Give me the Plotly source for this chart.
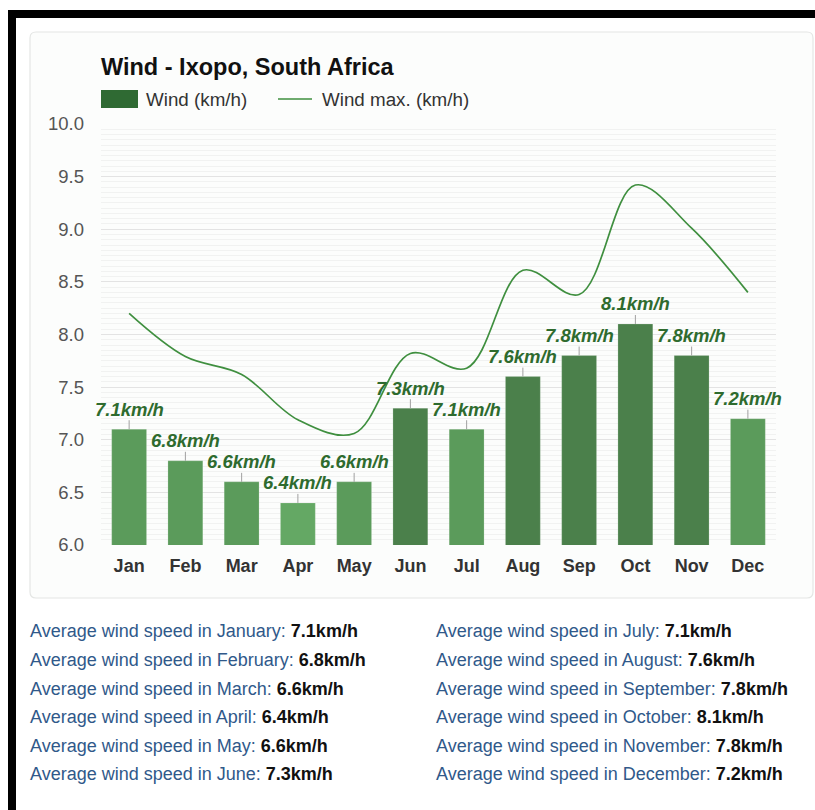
import plotly.graph_objects as go

# ---- data ----
months = ["Jan", "Feb", "Mar", "Apr", "May", "Jun", "Jul", "Aug", "Sep", "Oct", "Nov", "Dec"]
month_names = ["January", "February", "March", "April", "May", "June",
               "July", "August", "September", "October", "November", "December"]
wind_avg = [7.1, 6.8, 6.6, 6.4, 6.6, 7.3, 7.1, 7.6, 7.8, 8.1, 7.8, 7.2]
wind_max = [8.2, 7.79, 7.62, 7.19, 7.06, 7.82, 7.68, 8.61, 8.38, 9.42, 9.01, 8.40]

# ---- layout geometry (pixels) ----
W, H = 815, 810
PL, PR, PT, PB = 101, 776, 124, 545  # plot area box
FONT = "Arial, Liberation Sans, Helvetica, sans-serif"


def fx(px):
    return (px - PL) / (PR - PL)


def fy(py):
    return (PB - py) / (PB - PT)


def bar_color(v):
    if v >= 7.3:
        return "#4b804b"
    if v <= 6.4:
        return "#64a864"
    return "#5b9b5b"


colors = [bar_color(v) for v in wind_avg]

fig = go.Figure()
fig.add_trace(go.Bar(
    x=months, y=wind_avg, base=0,
    marker=dict(color=colors, line=dict(color="rgba(255,255,255,0.18)", width=1)),
    width=0.62, hoverinfo="skip", showlegend=False,
))
fig.add_trace(go.Scatter(
    x=months, y=wind_max, mode="lines",
    line=dict(color="#3f8f3f", width=1.7, shape="spline", smoothing=1.0),
    hoverinfo="skip", showlegend=False,
))

annotations = []
for m, v in zip(months, wind_avg):
    annotations.append(dict(
        x=m, y=v, xref="x", yref="y",
        text=f"<b><i>{v:.1f}km/h</i></b>",
        showarrow=True, arrowhead=0, arrowwidth=1, arrowcolor="#a0a0a0",
        ax=0, ay=-20, borderpad=0,
        font=dict(family=FONT, size=18.5, color="#2e6b2e"),
    ))

# title
annotations.append(dict(
    x=fx(99), y=fy(67), xref="paper", yref="paper", xanchor="left", yanchor="middle",
    text="<b>Wind - Ixopo, South Africa</b>", showarrow=False,
    font=dict(family=FONT, size=23.5, color="#111111"),
))
# legend texts
annotations.append(dict(
    x=fx(144), y=fy(99), xref="paper", yref="paper", xanchor="left", yanchor="middle",
    text="Wind (km/h)", showarrow=False, font=dict(family=FONT, size=18.8, color="#333333"),
))
annotations.append(dict(
    x=fx(320), y=fy(99), xref="paper", yref="paper", xanchor="left", yanchor="middle",
    text="Wind max. (km/h)", showarrow=False, font=dict(family=FONT, size=18.8, color="#333333"),
))

# bottom list
row_y = [631, 660, 689, 717, 746, 774]
for i, (name, v) in enumerate(zip(month_names, wind_avg)):
    col_x = 30 if i < 6 else 436
    yy = row_y[i % 6]
    annotations.append(dict(
        x=fx(col_x - 2), y=fy(yy), xref="paper", yref="paper", xanchor="left", yanchor="middle",
        text=f"Average wind speed in {name}: <span style='color:#111111'><b>{v:.1f}km/h</b></span>",
        showarrow=False, font=dict(family=FONT, size=18, color="#30598a"),
    ))

# card rounded rect path
r = 6
x0, x1, y0, y1 = 30, 813, 32, 598


def P(px, py):
    return f"{fx(px)},{fy(py)}"


card_path = (
    f"M {P(x0 + r, y0)} L {P(x1 - r, y0)} Q {P(x1, y0)} {P(x1, y0 + r)} "
    f"L {P(x1, y1 - r)} Q {P(x1, y1)} {P(x1 - r, y1)} "
    f"L {P(x0 + r, y1)} Q {P(x0, y1)} {P(x0, y1 - r)} "
    f"L {P(x0, y0 + r)} Q {P(x0, y0)} {P(x0 + r, y0)} Z"
)

shapes = [
    # black frame pieces
    dict(type="rect", xref="paper", yref="paper", x0=fx(8), x1=fx(815), y0=fy(10), y1=fy(18),
         fillcolor="#000000", line=dict(width=0), layer="below"),
    dict(type="rect", xref="paper", yref="paper", x0=fx(8), x1=fx(16), y0=fy(10), y1=fy(810),
         fillcolor="#000000", line=dict(width=0), layer="below"),
    # card
    dict(type="path", xref="paper", yref="paper", path=card_path,
         fillcolor="#fcfdfc", line=dict(color="#e4e6e4", width=1.2), layer="below"),
    # legend swatches
    dict(type="rect", xref="paper", yref="paper", x0=fx(101), x1=fx(138), y0=fy(90), y1=fy(108),
         fillcolor="#2f6a33", line=dict(width=0)),
    dict(type="line", xref="paper", yref="paper", x0=fx(278), x1=fx(312), y0=fy(99), y1=fy(99),
         line=dict(color="#3f8f3f", width=1.7)),
]

fig.update_layout(
    width=W, height=H, autosize=False,
    margin=dict(l=PL, r=W - PR, t=PT, b=H - PB, pad=0),
    paper_bgcolor="#ffffff", plot_bgcolor="rgba(0,0,0,0)",
    bargap=0.38,
    showlegend=False,
    annotations=annotations, shapes=shapes,
    font=dict(family=FONT),
)
fig.update_xaxes(
    showgrid=False, zeroline=False, showline=False, ticks="",
    tickfont=dict(family=FONT, size=18, color="#333333"),
    tickprefix="<b>", ticksuffix="</b>",
    ticklabelstandoff=8,
    range=[-0.5, 11.5],
)
fig.update_yaxes(
    range=[6, 10], dtick=0.5, tick0=6, tickformat=".1f",
    showgrid=True, gridcolor="#e3e3e3", gridwidth=1,
    zeroline=False, showline=False, ticks="",
    tickfont=dict(family=FONT, size=18.5, color="#555555"),
    ticklabelstandoff=16,
    minor=dict(dtick=0.05, tick0=6, showgrid=True, gridcolor="#f1f2f1", gridwidth=1),
)

fig.write_html("out.html")
